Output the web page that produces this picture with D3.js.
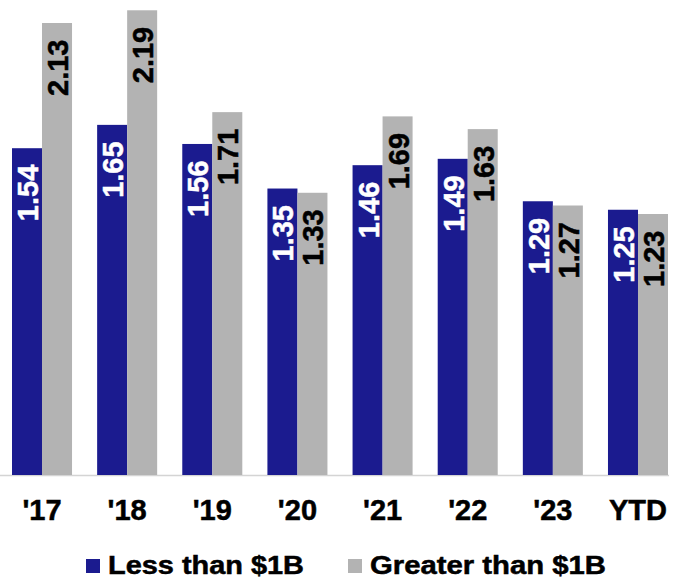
<!DOCTYPE html>
<html>
<head>
<meta charset="utf-8">
<script src="https://cdn.jsdelivr.net/npm/d3@7"></script>
<style>
  html, body { margin: 0; padding: 0; background: #ffffff; }
  svg { display: block; font-family: "Liberation Sans", Arial, sans-serif; font-weight: bold; }
</style>
</head>
<body>
<svg id="chart" width="676" height="580"></svg>
<script>
const categories = ["'17", "'18", "'19", "'20", "'21", "'22", "'23", "YTD"];
const lessThan1B = [1.54, 1.65, 1.56, 1.35, 1.46, 1.49, 1.29, 1.25];
const greaterThan1B = [2.13, 2.19, 1.71, 1.33, 1.69, 1.63, 1.27, 1.23];
const seriesNames = ["Less than $1B", "Greater than $1B"];
const seriesKeys = ["less", "greater"];
const colors = ["#1B1B8F", "#B3B3B3"];
const labelColors = ["#ffffff", "#000000"];

const rows = categories.map((c, i) => ({ cat: c, less: lessThan1B[i], greater: greaterThan1B[i] }));

const svg = d3.select("#chart");
const baseY = 475;

const x0 = d3.scaleBand().domain(categories).range([12, 668]).paddingInner(0.295).paddingOuter(0);
const x1 = d3.scaleBand().domain(seriesKeys).range([0, x0.bandwidth()]).padding(0);
const y = d3.scaleLinear().domain([0, 2.2]).range([baseY, baseY - 2.2 * 212.2]);
const color = d3.scaleOrdinal().domain(seriesKeys).range(colors);
const lblColor = d3.scaleOrdinal().domain(seriesKeys).range(labelColors);

// axis line
svg.append("line")
  .attr("x1", 0).attr("x2", 669)
  .attr("y1", baseY + 0.5).attr("y2", baseY + 0.5)
  .attr("stroke", "#d4d4d4").attr("stroke-width", 1.5);

const groups = svg.append("g").selectAll("g")
  .data(rows).join("g")
  .attr("transform", d => `translate(${x0(d.cat)},0)`);

groups.selectAll("rect")
  .data(d => seriesKeys.map(k => ({ key: k, value: d[k] })))
  .join("rect")
  .attr("x", d => x1(d.key))
  .attr("y", d => y(d.value))
  .attr("width", x1.bandwidth())
  .attr("height", d => y(0) - y(d.value))
  .attr("fill", d => color(d.key));

groups.selectAll("text.val")
  .data(d => seriesKeys.map(k => ({ key: k, value: d[k] })))
  .join("text")
  .attr("class", "val")
  .attr("transform", d => `translate(${x1(d.key) + x1.bandwidth() / 2 + 0.5},${y(d.value) + 16.5}) rotate(-90)`)
  .attr("text-anchor", "end")
  .attr("dy", "0.36em")
  .attr("font-size", 29)
  .attr("fill", d => lblColor(d.key))
  .attr("stroke", d => lblColor(d.key))
  .attr("stroke-width", 0.5)
  .text(d => d.value.toFixed(2));

// x axis labels
const xAxis = d3.axisBottom(x0).tickSize(0).tickPadding(0);
const ax = svg.append("g").attr("transform", `translate(0,${baseY})`).call(xAxis);
ax.select(".domain").remove();
ax.selectAll("text")
  .attr("y", 45)
  .attr("dy", 0)
  .attr("font-size", 29)
  .attr("font-family", "'Liberation Sans', Arial, sans-serif")
  .attr("font-weight", "bold")
  .attr("fill", "#000")
  .attr("stroke", "#000")
  .attr("stroke-width", 0.5);

// legend
const legendX = [86, 348];
const legendW = [196, 236];
const lg = svg.append("g").selectAll("g")
  .data(seriesNames).join("g")
  .attr("transform", (d, i) => `translate(${legendX[i]},0)`);
lg.append("rect")
  .attr("x", 0).attr("y", 559).attr("width", 14).attr("height", 14)
  .attr("fill", (d, i) => colors[i]);
lg.append("text")
  .attr("x", 22).attr("y", 573.5)
  .attr("font-size", 25.5)
  .attr("textLength", (d, i) => legendW[i])
  .attr("lengthAdjust", "spacingAndGlyphs")
  .attr("fill", "#000")
  .attr("stroke", "#000")
  .attr("stroke-width", 0.5)
  .text(d => d);
</script>
</body>
</html>
